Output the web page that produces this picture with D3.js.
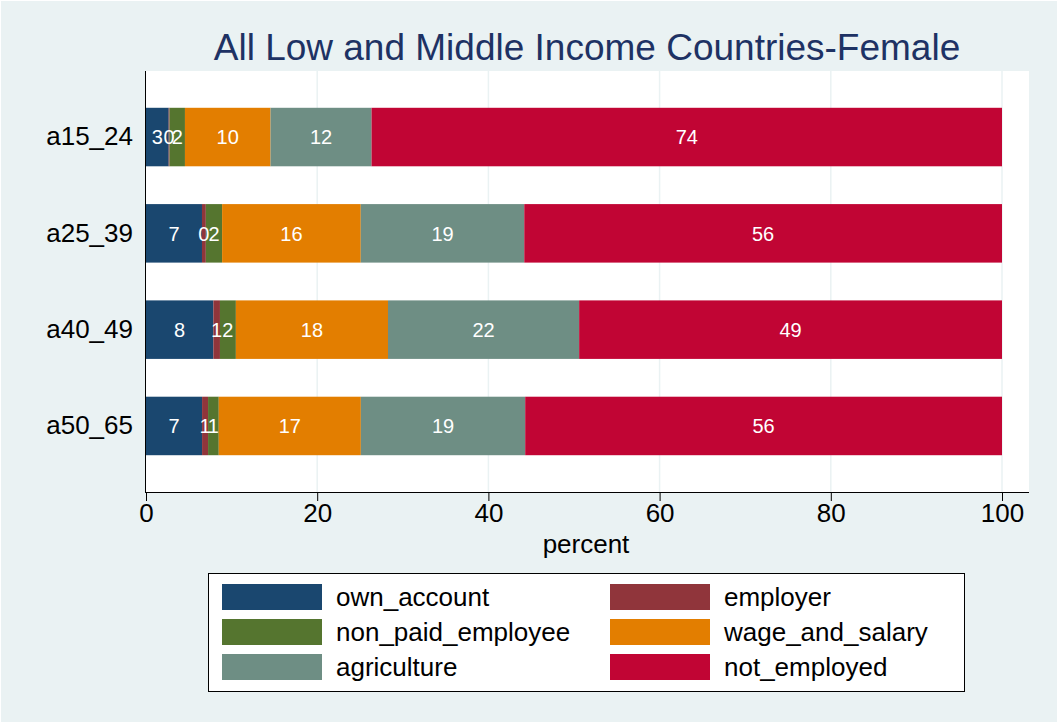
<!DOCTYPE html>
<html>
<head>
<meta charset="utf-8">
<script src="https://cdn.jsdelivr.net/npm/d3@7"></script>
<style>
html,body{margin:0;padding:0;background:#fff;}
svg{display:block;font-family:"Liberation Sans",Arial,sans-serif;}
</style>
</head>
<body>
<svg id="chart" width="1058" height="723"></svg>
<script>
const categories = ["a15_24","a25_39","a40_49","a50_65"];
const seriesNames = ["own_account","employer","non_paid_employee","wage_and_salary","agriculture","not_employed"];
const own_account       = [2.65, 6.54, 7.87, 6.55];
const employer          = [0.10, 0.45, 0.77, 0.70];
const non_paid_employee = [1.80, 1.90, 1.86, 1.25];
const wage_and_salary   = [10.0, 16.2, 17.77, 16.6];
const agriculture       = [11.8, 19.1, 22.33, 19.2];
const not_employed      = [73.65, 55.81, 49.40, 55.70];
const xTicks = [0,20,40,60,80,100];
const colors = ["#1a476f","#90353b","#55752f","#e37e00","#6e8e84","#c10534"];
const titleText = "All Low and Middle Income Countries-Female";
const xTitle = "percent";

const seriesValues = [own_account, employer, non_paid_employee, wage_and_salary, agriculture, not_employed];
const rows = categories.map((c,i)=>{
  const o = {cat:c};
  seriesNames.forEach((s,j)=>o[s]=seriesValues[j][i]);
  return o;
});

const svg = d3.select("#chart");
const W = 1058, H = 723;
svg.append("rect").attr("x",0).attr("y",0).attr("width",W).attr("height",H).attr("fill","#eaf2f3");
svg.append("rect").attr("x",0.5).attr("y",0.5).attr("width",W-1).attr("height",H-1).attr("fill","none").attr("stroke","#ffffff").attr("stroke-width",1);

const plot = {left:145, top:71, right:1029, bottom:492};
svg.append("rect").attr("x",plot.left).attr("y",plot.top).attr("width",plot.right-plot.left).attr("height",plot.bottom-plot.top).attr("fill","#ffffff");

const x = d3.scaleLinear().domain([0,100]).range([146,1002]);
const y = d3.scaleBand().domain(categories).range([plot.top, plot.bottom]).paddingInner(0.3925).paddingOuter(0.382);

// gridlines
svg.append("g").selectAll("line").data(xTicks.filter(t=>t>0)).join("line")
  .attr("x1",d=>x(d)).attr("x2",d=>x(d)).attr("y1",plot.top).attr("y2",plot.bottom)
  .attr("stroke","#eaf2f3").attr("stroke-width",1.5);

const stack = d3.stack().keys(seriesNames)(rows);
const g = svg.append("g");
stack.forEach((layer,j)=>{
  g.append("g").attr("fill",colors[j]).selectAll("rect").data(layer).join("rect")
    .attr("x",d=>x(d[0])).attr("width",d=>x(d[1])-x(d[0]))
    .attr("y",d=>y(d.data.cat)).attr("height",y.bandwidth());
});
stack.forEach((layer,j)=>{
  g.append("g").selectAll("text").data(layer).join("text")
    .attr("x",d=>(x(d[0])+x(d[1]))/2).attr("y",d=>y(d.data.cat)+y.bandwidth()/2)
    .attr("dy","0.36em").attr("text-anchor","middle").attr("fill","#ffffff")
    .attr("font-size",20).text(d=>d3.format(".0f")(d[1]-d[0]));
});

// axes
const xAxis = d3.axisBottom(x).tickValues(xTicks).tickSize(9).tickPadding(3).tickSizeOuter(0);
const xg = svg.append("g").attr("transform",`translate(0,${plot.bottom})`).call(xAxis);
xg.select(".domain").attr("d",`M${plot.left},0.5H${plot.right}`).attr("stroke","#000");
xg.selectAll(".tick line").attr("stroke","#000");
xg.selectAll("text").attr("font-size",26).attr("fill","#000").attr("font-family","'Liberation Sans',Arial,sans-serif");

const yAxis = d3.axisLeft(y).tickSize(0).tickPadding(12);
const yg = svg.append("g").attr("transform",`translate(${plot.left},0)`).call(yAxis);
yg.select(".domain").attr("d",`M0.5,${plot.top}V${plot.bottom}`).attr("stroke","#000");
yg.selectAll("text").attr("font-size",26).attr("fill","#000").attr("font-family","'Liberation Sans',Arial,sans-serif");

svg.append("text").attr("x",(plot.left+plot.right)/2 - 1).attr("y",553).attr("text-anchor","middle")
  .attr("font-size",26).attr("fill","#000").text(xTitle);

svg.append("text").attr("x",(plot.left+plot.right)/2).attr("y",60).attr("text-anchor","middle")
  .attr("font-size",37).attr("fill","#1e3264").text(titleText);

// legend
const lg = svg.append("g");
lg.append("rect").attr("x",208.5).attr("y",573.5).attr("width",756).attr("height",118).attr("fill","#fff").attr("stroke","#000").attr("stroke-width",1);
const colX = [222,610], rowY = [584,619,654];
seriesNames.forEach((s,i)=>{
  const c = i%2, r = Math.floor(i/2);
  lg.append("rect").attr("x",colX[c]).attr("y",rowY[r]).attr("width",100).attr("height",26).attr("fill",colors[i]);
  lg.append("text").attr("x",colX[c]+114).attr("y",rowY[r]+13).attr("dy","0.36em").attr("font-size",26).attr("fill","#000").text(s);
});
</script>
</body>
</html>
